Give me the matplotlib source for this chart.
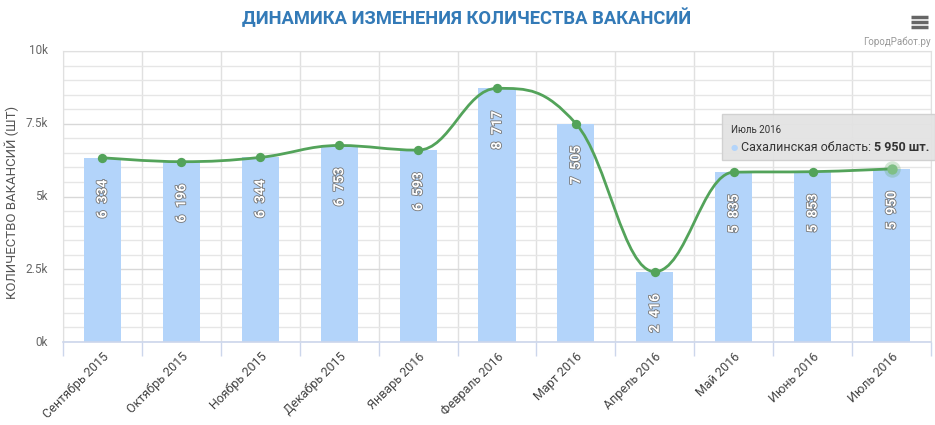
import matplotlib.pyplot as plt
import matplotlib.patheffects as pe
from matplotlib.path import Path
from matplotlib.patches import PathPatch, Rectangle
from matplotlib.lines import Line2D
from matplotlib.ticker import MultipleLocator, FuncFormatter

months = ["Сентябрь 2015", "Октябрь 2015", "Ноябрь 2015", "Декабрь 2015",
          "Январь 2016", "Февраль 2016", "Март 2016", "Апрель 2016",
          "Май 2016", "Июнь 2016", "Июль 2016"]
values = [6334, 6196, 6344, 6753, 6593, 8717, 7505, 2416, 5835, 5853, 5950]
labels = ["6 334", "6 196", "6 344", "6 753", "6 593", "8 717", "7 505",
          "2 416", "5 835", "5 853", "5 950"]

plt.rcParams['font.family'] = ['Roboto', 'DejaVu Sans']

W, H = 935, 425
fig = plt.figure(figsize=(W / 100, H / 100), dpi=100)
ax = fig.add_axes([63 / W, 83 / H, (931 - 63) / W, (342 - 51) / H])

x = list(range(len(values)))
ax.bar(x, values, width=0.47, color="#b3d4fa", zorder=2)


# spline like highcharts (smoothing 1.5)
def spline_path(xs, ys):
    n = len(xs)
    lc = [(xs[i], ys[i]) for i in range(n)]
    rc = [(xs[i], ys[i]) for i in range(n)]
    s = 1.5
    d = s + 1
    for i in range(1, n - 1):
        px, py = xs[i], ys[i]
        lx, ly = xs[i - 1], ys[i - 1]
        nx, ny = xs[i + 1], ys[i + 1]
        lcx = (s * px + lx) / d
        lcy = (s * py + ly) / d
        rcx = (s * px + nx) / d
        rcy = (s * py + ny) / d
        corr = ((rcy - lcy) * (rcx - px)) / (rcx - lcx) + py - rcy
        lcy += corr
        rcy += corr
        if lcy > ly and lcy > py:
            lcy = max(ly, py)
            rcy = 2 * py - lcy
        elif lcy < ly and lcy < py:
            lcy = min(ly, py)
            rcy = 2 * py - lcy
        if rcy > ny and rcy > py:
            rcy = max(ny, py)
            lcy = 2 * py - rcy
        elif rcy < ny and rcy < py:
            rcy = min(ny, py)
            lcy = 2 * py - rcy
        lc[i] = (lcx, lcy)
        rc[i] = (rcx, rcy)
    verts = [(xs[0], ys[0])]
    codes = [Path.MOVETO]
    for i in range(1, n):
        verts += [rc[i - 1], lc[i], (xs[i], ys[i])]
        codes += [Path.CURVE4] * 3
    return Path(verts, codes)


ax.add_patch(PathPatch(spline_path(x, values), fill=False, edgecolor="#53a35a",
                       lw=2, zorder=4, capstyle='round'))
ax.scatter(x[:-1], values[:-1], s=45, color="#53a35a", zorder=5, linewidths=0)
ax.scatter([x[-1]], [values[-1]], s=140, color="#53a35a", alpha=0.25, zorder=5, linewidths=0)
ax.scatter([x[-1]], [values[-1]], s=55, color="#7fbf85", zorder=5, linewidths=0)

for xi, v, lab in zip(x, values, labels):
    ax.annotate(lab.replace(" ", "  "), (xi, v), xytext=(0, -16), textcoords="offset points",
                rotation=90, ha="center", va="top", color="white",
                fontsize=10, fontweight="bold", zorder=6,
                path_effects=[pe.withStroke(linewidth=1.2, foreground="#777777")])

ax.set_xlim(-0.5, len(values) - 0.5)
ax.set_ylim(0, 10000)
ax.yaxis.set_major_locator(MultipleLocator(2500))
ax.yaxis.set_minor_locator(MultipleLocator(500))
ax.yaxis.set_major_formatter(FuncFormatter(lambda v, p: "%gk" % (v / 1000)))
ax.grid(axis="y", which="major", color="#d8d8d8", lw=1, zorder=0)
ax.grid(axis="y", which="minor", color="#e6e6e6", lw=1, zorder=0)
for b in range(len(values) + 1):
    ax.axvline(b - 0.5, color="#e0e0e0", lw=1, zorder=0)

ax.set_xticks(x)
ax.set_xticklabels(months, rotation=45, ha="right", va="top",
                   rotation_mode="anchor", fontsize=9, color="#444444")
ax.tick_params(axis="x", length=0, pad=6)
ax.set_xticks([b - 0.5 for b in range(len(values) + 1)], minor=True)
ax.tick_params(axis="x", which="minor", length=10, color="#ccd6eb", width=1)
ax.tick_params(axis="y", which="both", length=0, pad=11, labelsize=8.5, labelcolor="#666666")
for t in ax.get_yticklabels():
    t.set_va("center")

for side in ["top", "right", "left"]:
    ax.spines[side].set_color("#e0e0e0")
ax.spines["bottom"].set_color("#ccd6eb")
ax.spines["bottom"].set_linewidth(1.2)

ax.set_ylabel("КОЛИЧЕСТВО ВАКАНСИЙ (ШТ)", fontsize=9.5, color="#555555")
ax.yaxis.set_label_coords(-51 / 868, 0.48)
ax.yaxis.label.set_va("center")

fig.text(467 / W, 1 - 18 / H, "ДИНАМИКА ИЗМЕНЕНИЯ КОЛИЧЕСТВА ВАКАНСИЙ",
         ha="center", va="center", fontsize=13.2, fontweight="bold", color="#337ab7")
fig.text(931 / W, 1 - 42 / H, "ГородРабот.ру", ha="right", va="center",
         fontsize=7, color="#999999")

# menu icon
for yy in [17, 22, 27]:
    fig.add_artist(Line2D([911 / W, 928 / W], [1 - yy / H, 1 - yy / H],
                          color="#666666", lw=2.5, solid_capstyle="butt"))

# tooltip
fig.add_artist(Rectangle((722 / W, 1 - 160 / H), (935 - 722) / W, 46 / H,
                         facecolor="#e3e3e3", edgecolor="#d0d0d0", alpha=0.95,
                         lw=1, zorder=10))
fig.text(731 / W, 1 - 130 / H, "Июль 2016", fontsize=7, color="#333333",
         va="center", zorder=11)
fig.text(731 / W, 1 - 148 / H, "●", fontsize=6, color="#b3d4fa", va="center", zorder=11)
t1 = fig.text(741 / W, 1 - 148 / H, "Сахалинская область: ", fontsize=9,
              color="#333333", va="center", zorder=11)
fig.canvas.draw()
bb = t1.get_window_extent()
fig.text(bb.x1 / W, 1 - 148 / H, "5 950 шт.", fontsize=9, fontweight="bold",
         color="#333333", va="center", zorder=11)

fig.savefig("out.png", dpi=100)
